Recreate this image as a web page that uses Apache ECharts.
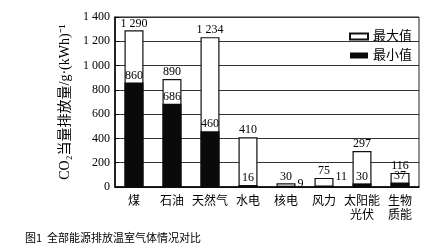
<!DOCTYPE html>
<html><head><meta charset="utf-8">
<script src="https://cdn.jsdelivr.net/npm/echarts@6/dist/echarts.min.js"></script>
<style>html,body{margin:0;padding:0;background:#fff}#c{width:434px;height:247px}</style>
</head><body><div id="c"></div>
<script>
const categories = ['煤', '石油', '天然气', '水电', '核电', '风力', '太阳能\n光伏', '生物\n质能'];
const maxValues = [1290, 890, 1234, 410, 30, 75, 297, 116];
const minValues = [860, 686, 460, 16, 9, 11, 30, 37];
const yTicks = [0, 200, 400, 600, 800, 1000, 1200, 1400];
const seriesNames = ['最大值', '最小值'];
const yName = 'CO₂当量排放量/g·(kWh)⁻¹';
const caption = '图1  全部能源排放温室气体情况对比';

const FONT = '"Liberation Serif", "Noto Sans CJK SC", serif';
const fmt = v => v >= 1000 ? Math.floor(v / 1000) + ' ' + String(v % 1000).padStart(3, '0') : String(v);

const chart = echarts.init(document.getElementById('c'));
const minData = minValues.map((v, i) => {
  const d = { value: v };
  if (i === 4) d.label = { position: 'right', offset: [0, -3], distance: 2 };
  if (i === 5) d.label = { position: 'right', offset: [0, -9], distance: 2 };
  return d;
});
chart.setOption({
  animation: false,
  textStyle: { fontFamily: FONT, color: '#000' },
  grid: { left: 115, right: 15, top: 17, bottom: 60, show: true, borderColor: '#222', borderWidth: 1 },
  legend: {
    orient: 'vertical', left: 344, top: 25, itemWidth: 18, itemHeight: 6, itemGap: 6,
    icon: 'rect',
    textStyle: { fontFamily: FONT, fontSize: 13, color: '#000' },
    data: seriesNames
  },
  xAxis: {
    type: 'category', data: categories,
    axisLine: { lineStyle: { color: '#000', width: 1.5 } },
    axisTick: { show: false },
    splitLine: { show: false },
    axisLabel: { color: '#000', fontSize: 12, fontFamily: FONT, margin: 8, lineHeight: 14, interval: 0 }
  },
  yAxis: {
    type: 'value', min: 0, max: 1400, interval: 200,
    name: yName, nameLocation: 'middle', nameGap: 40, nameRotate: 90,
    nameTextStyle: { fontFamily: FONT, fontSize: 14, color: '#000' },
    axisLine: { show: true, lineStyle: { color: '#000', width: 1.5 } },
    axisTick: { show: true, inside: true, length: 4, lineStyle: { color: '#000' } },
    axisLabel: { color: '#000', fontSize: 12, fontFamily: FONT, margin: 5, formatter: v => yTicks.includes(v) ? fmt(v) : '' },
    splitLine: { show: true, lineStyle: { color: '#333', type: 'solid', width: 1 } }
  },
  series: [
    {
      name: seriesNames[0], type: 'bar', data: maxValues, barWidth: 19, barGap: '-100%',
      itemStyle: { color: '#fff', borderColor: '#111', borderWidth: 1.2 },
      label: { show: true, position: 'top', distance: 1, color: '#000', fontSize: 12, fontFamily: FONT, formatter: p => fmt(p.value) },
      z: 2
    },
    {
      name: seriesNames[1], type: 'bar', data: minData, barWidth: 19,
      itemStyle: { color: '#0a0a0a' },
      label: { show: true, position: 'top', distance: 1, color: '#000', fontSize: 12, fontFamily: FONT, formatter: p => fmt(p.value) },
      z: 3
    }
  ],
  graphic: [{
    type: 'text', left: 25, top: 232,
    style: { text: caption, font: '11px "Noto Sans CJK SC", sans-serif', fill: '#000' }
  }]
});
</script></body></html>
